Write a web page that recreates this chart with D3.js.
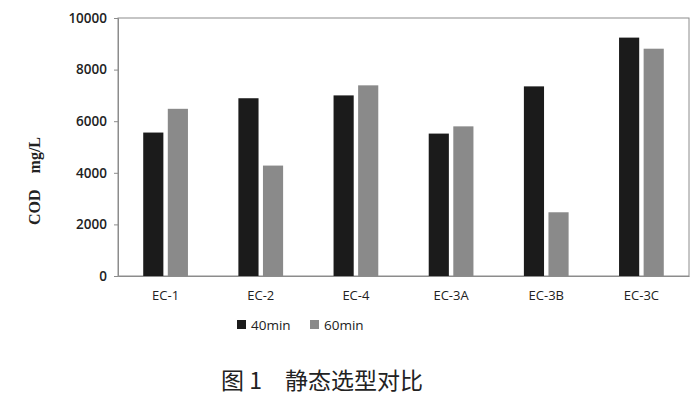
<!DOCTYPE html>
<html><head><meta charset="utf-8">
<script src="https://cdn.jsdelivr.net/npm/d3@7"></script>
<style>body{margin:0;background:#fff}svg{display:block}</style>
</head><body>
<script>
const categories = ["EC-1","EC-2","EC-4","EC-3A","EC-3B","EC-3C"];
const seriesNames = ["40min","60min"];
const values40 = [5560, 6890, 7000, 5520, 7350, 9240];
const values60 = [6480, 4280, 7390, 5800, 2470, 8810];
const yTicks = [0,2000,4000,6000,8000,10000];
const colors = ["#1b1b1b","#8a8a8a"];

const W=700,H=399;
const m={left:118,right:689,top:18,bottom:276};
const svg=d3.select("body").append("svg").attr("width",W).attr("height",H);

const x=d3.scaleBand().domain(categories).range([m.left,m.right]).paddingInner(0.53).paddingOuter(0.265);
const xs=d3.scaleBand().domain(seriesNames).range([0,x.bandwidth()]).paddingInner(0.18);
const y=d3.scaleLinear().domain([0,10000]).range([m.bottom,m.top]);

svg.append("rect").attr("x",m.left).attr("y",m.top).attr("width",m.right-m.left).attr("height",m.bottom-m.top)
  .attr("fill","none").attr("stroke","#8c8c8c").attr("stroke-width",1);

const data=categories.map((c,i)=>({c,v:[values40[i],values60[i]]}));
const g=svg.append("g");
data.forEach(d=>{
  d.v.forEach((v,j)=>{
    g.append("rect").attr("x",x(d.c)+xs(seriesNames[j])).attr("y",y(v))
     .attr("width",xs.bandwidth()).attr("height",y(0)-y(v)).attr("fill",colors[j]);
  });
});

const font="'Open Sans','DejaVu Sans',sans-serif";
const ya=svg.append("g").attr("transform",`translate(${m.left},0)`)
  .call(d3.axisLeft(y).tickValues(yTicks).tickSize(4).tickPadding(7).tickFormat(d3.format("d")));
ya.select(".domain").attr("stroke","#8c8c8c");
ya.selectAll(".tick line").attr("stroke","#8c8c8c");
ya.selectAll("text").attr("font-family",font).attr("font-size",13.5).attr("fill","#222").attr("font-weight",600);

const xa=svg.append("g").attr("transform",`translate(0,${m.bottom})`)
  .call(d3.axisBottom(x).tickSize(0).tickPadding(15));
xa.select(".domain").attr("stroke","#8c8c8c");
xa.selectAll("text").attr("font-family",font).attr("font-size",13).attr("fill","#222").attr("font-weight",500);

svg.append("text").attr("transform","translate(40,181) rotate(-90)").attr("text-anchor","middle")
  .attr("font-family","'Liberation Serif','DejaVu Serif',serif").attr("font-size",16).attr("font-weight","bold").attr("fill","#222")
  .text("COD\u3000mg/L");

const lg=svg.append("g");
const lx=[237,310];
seriesNames.forEach((s,i)=>{
  lg.append("rect").attr("x",lx[i]).attr("y",320).attr("width",9).attr("height",9).attr("fill",colors[i]);
  lg.append("text").attr("x",lx[i]+14).attr("y",330).attr("font-family",font).attr("font-size",13.5).attr("fill","#222").text(s);
});

svg.append("text").attr("x",322).attr("y",389).attr("text-anchor","middle")
  .attr("font-family","'Noto Sans CJK SC',sans-serif").attr("font-size",23).attr("fill","#222")
  .text("图 1\u3000静态选型对比");
</script>
</body></html>
